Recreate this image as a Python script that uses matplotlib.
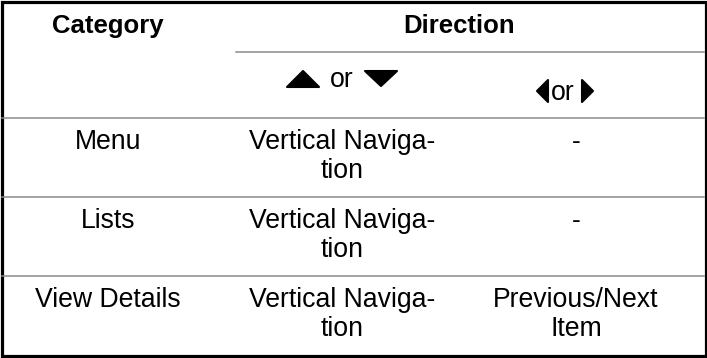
import matplotlib.pyplot as plt
from matplotlib.patches import Polygon, Rectangle

plt.rcParams['font.family'] = ['Liberation Sans', 'DejaVu Sans']

# table content
header_left = 'Category'
header_right = 'Direction'
categories = ['Menu', 'Lists', 'View Details']
vertical = [['Vertical Naviga-', 'tion'], ['Vertical Naviga-', 'tion'], ['Vertical Naviga-', 'tion']]
horizontal = [['-'], ['-'], ['Previous/Next', 'Item']]

# layout in pixels (y grows downwards)
W, H = 707, 358
col_edges = [0, 237, 472, 706]
col_centers = [108, 342, 576]
header_line = 52
row_tops = [118, 197, 276]
fs_head = 18.5
fs = 19.2
line_gap = 29

fig = plt.figure(figsize=(W / 100, H / 100), dpi=100)
ax = fig.add_axes([0, 0, 1, 1])
ax.set_xlim(0, W)
ax.set_ylim(H, 0)
ax.axis('off')

grey = '#8a8a8a'

# header
ax.text(col_centers[0], 33, header_left, ha='center', va='baseline', fontsize=fs_head, fontweight='bold')
ax.text((col_centers[1] + col_centers[2]) / 2, 33, header_right, ha='center', va='baseline',
        fontsize=fs_head, fontweight='bold')
ax.plot([col_edges[1] - 1, W - 3], [header_line, header_line], color=grey, lw=1.1)

# sub header arrows: up or down
cx = col_centers[1]
ax.add_patch(Polygon([[cx - 55, 87], [cx - 23, 87], [cx - 39, 71]], closed=True,
                     fc='black', ec='black', lw=1.5, joinstyle='round'))
ax.text(cx, 87, 'or', ha='center', va='baseline', fontsize=fs)
ax.add_patch(Polygon([[cx + 23, 71], [cx + 55, 71], [cx + 39, 86]], closed=True,
                     fc='black', ec='black', lw=1.5, joinstyle='round'))

# sub header arrows: left or right
cx = col_centers[2] - 13
ax.add_patch(Polygon([[cx - 26, 91], [cx - 15, 80], [cx - 15, 102]], closed=True,
                     fc='black', ec='black', lw=1.5, joinstyle='round'))
ax.text(cx, 100, 'or', ha='center', va='baseline', fontsize=fs)
ax.add_patch(Polygon([[cx + 19, 80], [cx + 19, 102], [cx + 30, 91]], closed=True,
                     fc='black', ec='black', lw=1.5, joinstyle='round'))

# body rows
for top, cat, vert, hor in zip(row_tops, categories, vertical, horizontal):
    ax.plot([2, W - 3], [top, top], color=grey, lw=1.1)
    base = top + 31
    ax.text(col_centers[0], base, cat, ha='center', va='baseline', fontsize=fs)
    for k, line in enumerate(vert):
        ax.text(col_centers[1], base + k * line_gap, line, ha='center', va='baseline', fontsize=fs)
    for k, line in enumerate(hor):
        ax.text(col_centers[2], base + k * line_gap, line, ha='center', va='baseline', fontsize=fs)

# outer border
ax.add_patch(Rectangle((1.5, 1.5), W - 3, H - 4, fill=False, ec='black', lw=2.3))

fig.savefig('out.png', dpi=100)
